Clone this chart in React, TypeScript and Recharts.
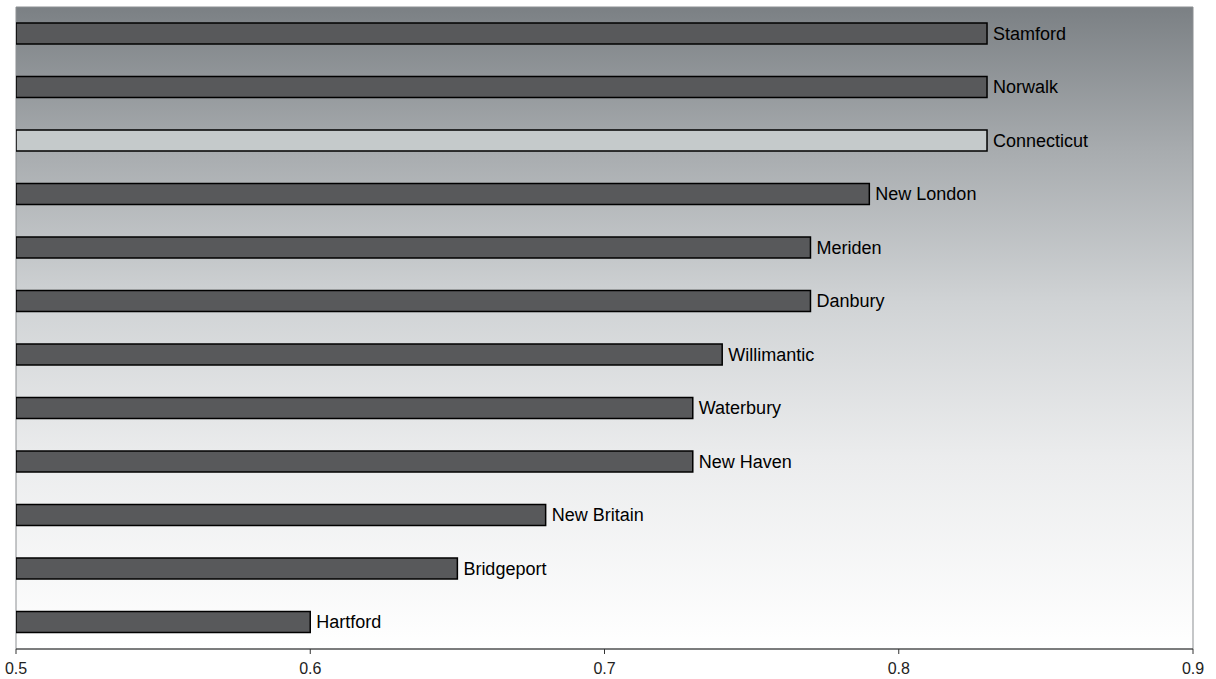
import React from 'react';
import { BarChart, Bar, XAxis, YAxis, Cell, LabelList, ReferenceArea } from 'recharts';

// Cities, ranked top to bottom
const cities = [
  'Stamford', 'Norwalk', 'Connecticut', 'New London', 'Meriden', 'Danbury',
  'Willimantic', 'Waterbury', 'New Haven', 'New Britain', 'Bridgeport', 'Hartford',
];
const values = [0.83, 0.83, 0.83, 0.79, 0.77, 0.77, 0.74, 0.73, 0.73, 0.68, 0.65, 0.6];
const xTicks = [0.5, 0.6, 0.7, 0.8, 0.9];

const highlight = 'Connecticut';

const data = cities.map((name, i) => ({ name, value: values[i] }));

const FONT = '"Liberation Sans", Arial, sans-serif';

// plain tick text so the size is exactly what we ask for
const XTick = (props: any) => {
  const { x, y, payload } = props;
  return (
    <text x={x} y={y} dy={12} textAnchor="middle" fill="#222" fontSize={16} fontFamily={FONT}>
      {payload.value}
    </text>
  );
};

const App = () => {
  return (
    <div style={{ position: 'absolute', left: 0, top: 0, width: 1216, height: 679, background: '#fff' }}>
      <svg width={0} height={0} style={{ position: 'absolute' }}>
        <defs>
          <linearGradient id="bgGrad" x1="0" y1="0" x2="0" y2="1">
            <stop offset="0%" stopColor="#7b8084" />
            <stop offset="22%" stopColor="#a7abae" />
            <stop offset="46%" stopColor="#d0d3d5" />
            <stop offset="70%" stopColor="#ebeced" />
            <stop offset="100%" stopColor="#ffffff" />
          </linearGradient>
        </defs>
      </svg>
      <BarChart
        width={1216}
        height={679}
        data={data}
        layout="vertical"
        margin={{ top: 7, right: 23, bottom: 0, left: 16 }}
        barCategoryGap={0}
      >
        <ReferenceArea x1={0.5} x2={0.9} fill="url(#bgGrad)" fillOpacity={1} stroke="#8c8f92" strokeWidth={1} />
        <XAxis
          type="number"
          domain={[0.5, 0.9]}
          ticks={xTicks}
          height={30}
          tickSize={5}
          tickMargin={8}
          axisLine={{ stroke: '#333', strokeWidth: 1 }}
          tickLine={{ stroke: '#333' }}
          tick={<XTick />}
          allowDataOverflow
        />
        <YAxis type="category" dataKey="name" hide />
        <Bar dataKey="value" barSize={21} stroke="#000" strokeWidth={1.5} isAnimationActive={false}>
          {data.map((entry, index) => (
            <Cell key={`cell-${index}`} fill={entry.name === highlight ? '#c5cacb' : '#58595b'} />
          ))}
          <LabelList dataKey="name" position="right" offset={6} fill="#000" fontSize={18} fontFamily={FONT} />
        </Bar>
      </BarChart>
    </div>
  );
};

export default App;
